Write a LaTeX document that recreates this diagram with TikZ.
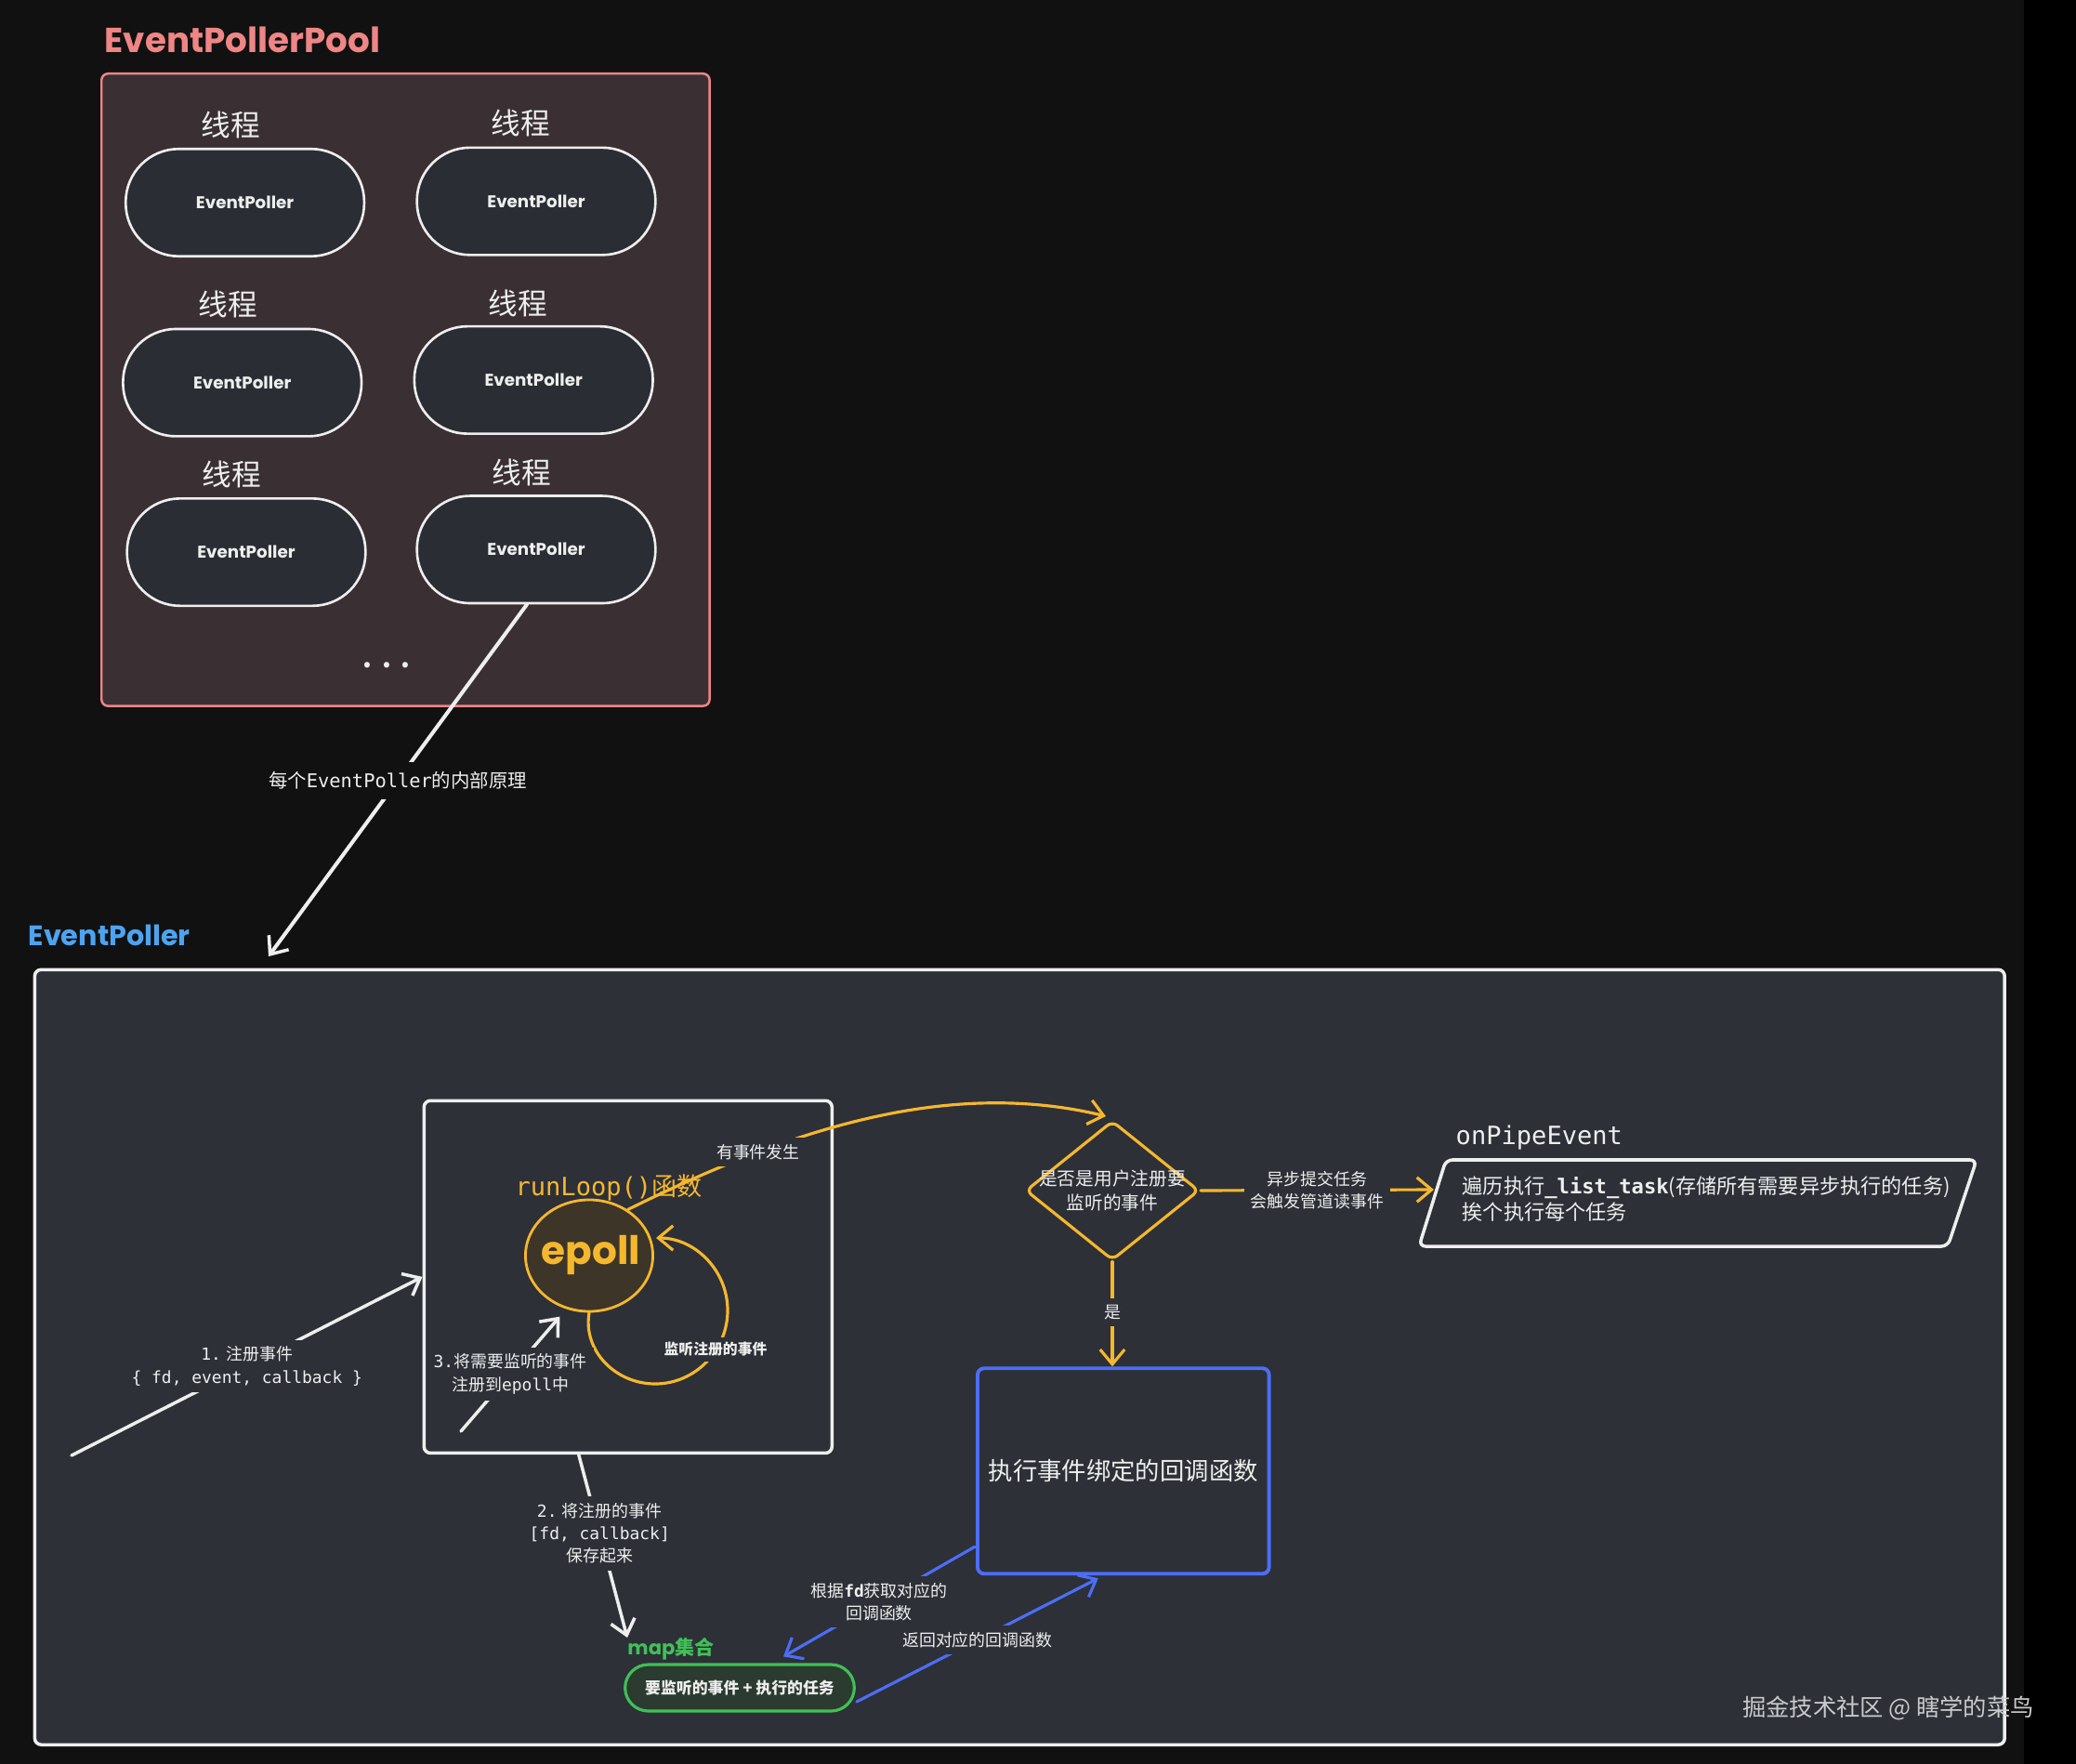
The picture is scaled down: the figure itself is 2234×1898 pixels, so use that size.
\documentclass[tikz,border=0pt]{standalone}
\usepackage{fontspec}
\setmainfont{Noto Sans CJK SC}
\setmonofont{DejaVu Sans Mono}
\newfontfamily\hand{Poppins}
\usetikzlibrary{arrows.meta,shapes.geometric,calc}
\definecolor{bg}{HTML}{111111}
\definecolor{poolfill}{HTML}{3A3034}
\definecolor{poolline}{HTML}{F08585}
\definecolor{epfill}{HTML}{2D3037}
\definecolor{pillfill}{HTML}{2A2D33}
\definecolor{org}{HTML}{F5B72E}
\definecolor{epollfill}{HTML}{3D3528}
\definecolor{blu}{HTML}{4C6EF5}
\definecolor{grn}{HTML}{40C057}
\definecolor{grnfill}{HTML}{2B3B2F}
\definecolor{ttl}{HTML}{4DA3F0}
\definecolor{wht}{HTML}{EEEEEE}
\newcommand\fsz[2]{\fontsize{#1pt}{#2pt}\selectfont}
\begin{document}
\begin{tikzpicture}[x=0.01cm,y=-0.01cm,
  epnode/.style={draw=wht, fill=pillfill, line width=0.75pt, rounded corners=0.57cm,
    minimum width=2.565cm, minimum height=1.154cm, inner sep=0pt,
    font=\hand\bfseries\fsz{5.2}{6}, text=wht},
  thr/.style={text=wht, font=\fsz{9}{10}, inner sep=1pt},
  warrow/.style={draw=wht, line width=1pt, line cap=round,
    -{Straight Barb[length=4.5pt,width=7.5pt,line width=1pt]}},
  oarrow/.style={draw=org, line width=0.9pt, line cap=round,
    -{Straight Barb[length=4.5pt,width=7.5pt,line width=0.9pt]}},
  barrow/.style={draw=blu, line width=0.9pt, line cap=round,
    -{Straight Barb[length=4.5pt,width=7.5pt,line width=0.9pt]}},
  lbl/.style={fill=epfill, text=wht, font=\fsz{5.1}{6.9}, align=center, inner sep=2pt},
]
% background
\fill[bg] (0,0) rectangle (2234,1898);
\fill[black] (2178,0) rectangle (2234,1898);
\useasboundingbox (0,0) rectangle (2234,1898);

% ---------- EventPollerPool ----------
\node[anchor=west, text=poolline, font=\hand\bfseries\fsz{10.6}{13}, inner sep=0pt] (pooltitle) at (112,43) {EventPollerPool};
\node[draw=poolline, fill=poolfill, line width=0.7pt, rounded corners=2pt, anchor=north west,
  minimum width=6.54cm, minimum height=6.8cm, inner sep=0pt] (pool) at (108,78) {};

\node[epnode] (ep1) at (263.6,218) {EventPoller};
\node[epnode] (ep2) at (577,216.6) {EventPoller};
\node[epnode] (ep3) at (260.7,411.7) {EventPoller};
\node[epnode] (ep4) at (574.2,408.9) {EventPoller};
\node[epnode] (ep5) at (265,594.1) {EventPoller};
\node[epnode] (ep6) at (577,591.3) {EventPoller};

\node[thr] (t1) at (248,134) {线程};
\node[thr] (t2) at (560,132.5) {线程};
\node[thr] (t3) at (245,327.7) {线程};
\node[thr] (t4) at (557,326.3) {线程};
\node[thr] (t5) at (249.3,510) {线程};
\node[thr] (t6) at (561.3,508.6) {线程};

\node[text=wht, font=\bfseries\fsz{8}{9}] (dots) at (416,716) {.\hspace{3pt}.\hspace{3pt}.};

% ---------- link arrow ----------
\coordinate (epin) at (289,1029);
\draw[warrow, line width=1.15pt] ([xshift=-0.1cm]ep6.south) -- node[lbl, fill=bg, pos=0.5, font=\fsz{5.8}{7}, inner sep=3pt] (linklbl) {每个\texttt{EventPoller}的内部原理} (epin);

% ---------- EventPoller ----------
\node[anchor=west, text=ttl, font=\hand\bfseries\fsz{8.6}{11}, inner sep=0pt] (eptitle) at (30,1006) {EventPoller};
\node[draw=wht, fill=epfill, line width=1pt, rounded corners=2pt, anchor=north west,
  minimum width=21.186cm, minimum height=8.335cm, inner sep=0pt] (epbox) at (35.6,1041.5) {};

% runLoop box
\node[draw=wht, fill=epfill, line width=1pt, rounded corners=2pt, anchor=north west,
  minimum width=4.388cm, minimum height=3.79cm, inner sep=0pt] (rl) at (454.5,1182.5) {};

\node[text=org, font=\fsz{7.7}{9}] (rltitle) at (655,1278) {\texttt{runLoop()}函数};

\node[ellipse, draw=org, fill=epollfill, line width=0.8pt, minimum width=1.37cm, minimum height=1.2cm, inner sep=0pt] (epoll) at (634,1351) {};
\node[text=org, font=\hand\bfseries\fsz{12}{13}] (epolltxt) at (636,1350) {epoll};

% decision diamond
\node[diamond, draw=org, fill=epfill, line width=0.9pt, rounded corners=2pt, minimum width=1.866cm, minimum height=1.5cm, inner sep=0pt] (dia) at (1197,1281) {};
\node[text=wht, font=\fsz{5.6}{7.2}, align=center, inner sep=0pt] (diatxt) at (1197,1281) {是否是用户注册要\\监听的事件};

% orange curve: epoll -> diamond
\coordinate (ointo) at (1190,1201);
\draw[oarrow] (epoll.50) .. controls (850,1215) and (1020,1160) .. (ointo)
  node[lbl, pos=0.27] (evlbl) {有事件发生};

% loop arc
\draw[oarrow] (epoll.south) .. controls (627,1453) and (662,1489) .. (705,1489)
  .. controls (748,1489) and (783,1453) .. (783,1410)
  .. controls (783,1367) and (748,1332) .. (706,1332);
\node[lbl, font=\bfseries\fsz{4.5}{5.5}, inner sep=1.5pt] (looplbl) at (770,1452) {监听注册的事件};

% arrow 3
\coordinate (a3s) at (496,1540);
\draw[warrow] (a3s) -- node[lbl, pos=0.5] (a3lbl) {\texttt{3.}将需要监听的事件\\注册到\texttt{epoll}中} ($(epoll.242)+(-2,10)$);

% arrow 1
\coordinate (a1s) at (77,1566);
\draw[warrow] (a1s) -- node[lbl, pos=0.5] (a1lbl) {\texttt{1.} 注册事件\\\texttt{\{ fd, event, callback \}}} (rl.west);

% map pill
\node[draw=grn, fill=grnfill, line width=0.9pt, rounded corners=0.25cm, minimum width=2.465cm, minimum height=0.5cm, inner sep=0pt,
  text=wht, font=\bfseries\fsz{4.8}{6}] (pill) at (796,1816) {要监听的事件 + 执行的任务};
\node[text=grn, font=\bfseries\fsz{6}{7}, inner sep=0pt] (maplbl) at (722,1774) {{\hand map}集合};

% arrow 2
\coordinate (a2e) at (675,1762);
\draw[warrow] ($(rl.south)+(-53,0)$) -- node[lbl, pos=0.43] (a2lbl) {\texttt{2.} 将注册的事件\\\texttt{[fd, callback]}\\保存起来} (a2e);

% blue box
\node[draw=blu, fill=epfill, line width=1.1pt, rounded corners=2pt, anchor=north west,
  minimum width=3.135cm, minimum height=2.209cm, inner sep=0pt, text=wht, font=\fsz{7.5}{9}] (blue) at (1050,1470.3) {执行事件绑定的回调函数};

% diamond -> blue
\draw[oarrow] (dia.south) -- node[lbl, pos=0.48] (yeslbl) {是} (dia.south |- blue.north);

% diamond -> parallelogram
\draw[draw=wht, fill=epfill, line width=1pt, rounded corners=2pt] (1556,1248) -- (2127,1248) -- (2096,1341) -- (1527,1341) -- cycle;
\node[anchor=north west, align=left, text=wht, font=\fsz{6.3}{8.1}, inner sep=0pt] (ptxt) at (1573,1265) {遍历执行\texttt{\bfseries \_list\_task}(存储所有需要异步执行的任务)\\挨个执行每个任务};
\node[anchor=west, text=wht, font=\ttfamily\fsz{7.7}{9}, inner sep=0pt] (pipettl) at (1566,1224) {onPipeEvent};
\coordinate (pin) at (1543,1280);
\draw[oarrow] (dia.east) -- node[lbl, pos=0.5] (asynclbl) {异步提交任务\\会触发管道读事件} (pin);

% blue arrows
\draw[barrow] ($(blue.south west)+(-1,-31)$) -- node[lbl, pos=0.5] (getlbl) {根据\texttt{\bfseries fd}获取对应的\\回调函数} ($(pill.north)+(47,-7)$);
\draw[barrow] ($(pill.east)+(1,15)$) -- node[lbl, pos=0.5] (retlbl) {返回对应的回调函数} ($(blue.south)+(-27,3)$);

% watermark
\node[text=wht!85!black, font=\fsz{7.2}{8.5}, inner sep=0pt] (wm) at (2032,1838) {掘金技术社区 @ 瞎学的菜鸟};
\end{tikzpicture}
\end{document}
